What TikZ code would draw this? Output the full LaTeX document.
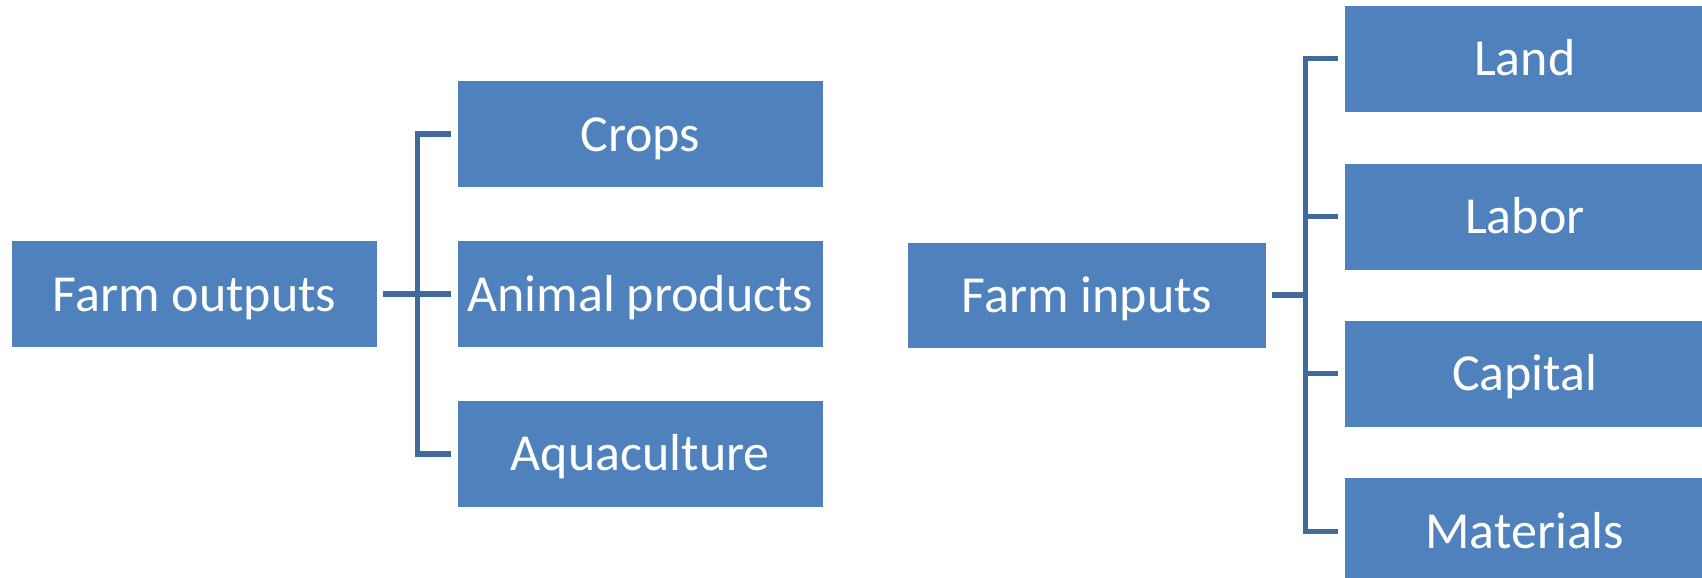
\documentclass[tikz,border=0pt]{standalone}
\usepackage{fontspec}
\setmainfont{Carlito}
\usetikzlibrary{positioning,calc}
\definecolor{boxblue}{HTML}{4F81BD}
\definecolor{linkblue}{HTML}{41699B}

\begin{document}
\begin{tikzpicture}[x=0.5pt, y=-0.5pt,
      box/.style={fill=boxblue, text=white, inner sep=0pt, minimum width=182.5pt, minimum height=53pt,
        text height=17pt, text depth=0pt, font=\fontsize{26}{30}\selectfont},
      ibox/.style={box, minimum width=180pt, minimum height=53pt},
      link/.style={draw=linkblue, line width=2.75pt}
    ]
      \useasboundingbox (0,0) rectangle (1702,578);
      \node[box] (outs) at (194.5,294) {Farm outputs};
      \node[box, right=40pt of outs] (anim) {Animal products};
      \node[box, above=26.5pt of anim] (crops) {Crops};
      \node[box, below=26.5pt of anim] (aqua) {Aquaculture};
      \node[ibox, minimum width=179pt, minimum height=52.5pt] (ins) at (1087,295) {Farm inputs};
      \node[ibox, right=39pt of ins, yshift=39.25pt] (labor) {Labor};
      \node[ibox, right=39pt of ins, yshift=-39.25pt] (capital) {Capital};
      \node[ibox, above=25.5pt of labor] (land) {Land};
      \node[ibox, below=25.5pt of capital] (mats) {Materials};
      \coordinate (lbus) at ($(outs.east)!0.5!(anim.west)$);
      \coordinate (rbus) at ($(ins.east)!0.5!(labor.west |- ins.east)$);
      \draw[link] ([xshift=3pt]outs.east) -- ([xshift=-3pt]anim.west);
      \draw[link] ([xshift=-3pt]crops.west) -- (crops.west -| lbus) -- (aqua.west -| lbus) -- ([xshift=-3pt]aqua.west);
      \draw[link] ([xshift=3pt]ins.east) -- (rbus);
      \draw[link] ([xshift=-3pt]land.west) -- (land.west -| rbus) -- (mats.west -| rbus) -- ([xshift=-3pt]mats.west);
      \draw[link] ([xshift=-3pt]labor.west) -- (labor.west -| rbus);
      \draw[link] ([xshift=-3pt]capital.west) -- (capital.west -| rbus);
    \end{tikzpicture}
\end{document}
